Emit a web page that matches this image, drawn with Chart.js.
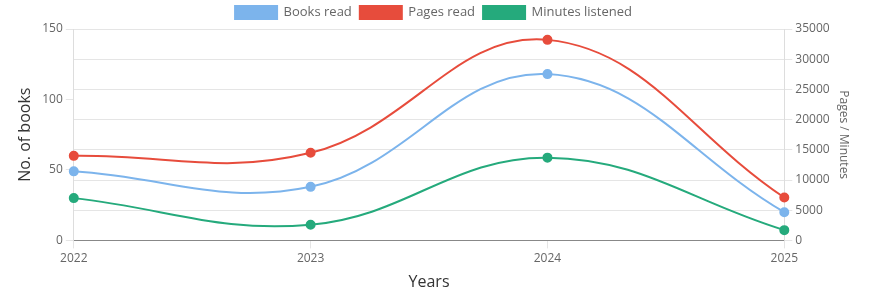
<!DOCTYPE html>
<html>
<head>
<meta charset="utf-8">
<script src="https://cdn.jsdelivr.net/npm/chart.js@4"></script>
<style>
    html, body { margin: 0; padding: 0; background: #fff; }
    #wrap { width: 871px; height: 296px; }
</style>
</head>
<body>
<div id="wrap"><canvas id="myChart"></canvas></div>
<script>
// chart data
const years = ["2022", "2023", "2024", "2025"];
const booksRead = [49, 38, 118, 20];
const pagesRead = [14000, 14500, 33200, 7100];
const minutesListened = [7000, 2600, 13700, 1700];

Chart.defaults.font.family = "'Open Sans', sans-serif";
Chart.defaults.color = "#666";

const ctx = document.getElementById('myChart').getContext('2d');

window.myChart = new Chart(ctx, {
    type: "line",
    data: {
        labels: years,
        datasets: [{
            label: 'Books read',
            data: booksRead,
            yAxisID: 'y',
            borderColor: "#7cb4ec",
            backgroundColor: "#7cb4ec",
            borderWidth: 2,
            pointRadius: 4,
            tension: 0.4
        }, {
            label: 'Pages read',
            data: pagesRead,
            yAxisID: 'y1',
            borderColor: "#e74c3c",
            backgroundColor: "#e74c3c",
            borderWidth: 2,
            pointRadius: 4,
            tension: 0.4
        }, {
            label: 'Minutes listened',
            data: minutesListened,
            yAxisID: 'y1',
            borderColor: "#25aa7c",
            backgroundColor: "#25aa7c",
            borderWidth: 2,
            pointRadius: 4,
            tension: 0.4
        }]
    },
    options: {
        responsive: true,
        maintainAspectRatio: false,
        animation: false,
        layout: { padding: { left: 12, right: 16, top: -2 } },
        plugins: {
            legend: {
                labels: { boxWidth: 42, boxHeight: 13, font: { size: 13 }, padding: 8 }
            },
            tooltip: { enabled: false }
        },
        scales: {
            x: {
                grid: { drawOnChartArea: false, tickLength: 8 },
                border: { color: "#888" },
                ticks: { font: { size: 12 } },
                title: { display: true, text: 'Years', color: "#333", font: { size: 16 } }
            },
            y: {
                position: 'left',
                min: 0,
                max: 150,
                ticks: { stepSize: 50, font: { size: 12 } },
                grid: { drawOnChartArea: false, tickLength: 8 },
                border: { color: "#ddd" },
                title: { display: true, text: 'No. of books', color: "#333", font: { size: 16 } }
            },
            y1: {
                position: 'right',
                min: 0,
                max: 35000,
                ticks: {
                    stepSize: 5000,
                    font: { size: 12 },
                    callback: function (value) { return String(value); }
                },
                grid: { color: "#e5e5e5", tickLength: 8 },
                border: { color: "#ddd" },
                title: { display: true, text: 'Pages / Minutes', font: { size: 12 } }
            }
        }
    }
});
</script>
</body>
</html>
